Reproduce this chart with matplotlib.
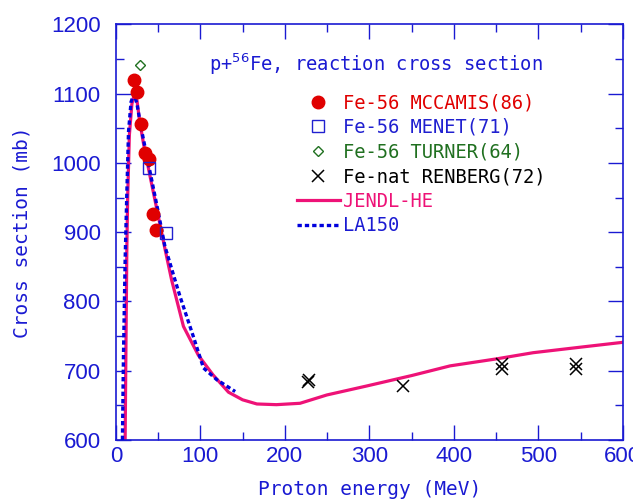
import matplotlib
matplotlib.use('Agg')
import matplotlib.pyplot as plt
from matplotlib.ticker import MultipleLocator
from matplotlib import font_manager

BLUE = '#1a1ad2'
PINK = '#ee1277'

# experimental data (MeV, mb)
mccamis_e = [20.9, 24.8, 29.6, 34.3, 39.0, 44.1, 47.3]
mccamis_s = [1119, 1102, 1056, 1014, 1006, 926, 903]

menet_e = [39.4, 59.5]
menet_s = [992, 899]

turner_e = [28.8]
turner_s = [1141]

renberg_e = [227, 228, 340, 457, 457, 544, 544]
renberg_s = [683, 686, 678, 710, 703, 710, 703]

# evaluations
jendl_e = [11, 12, 13, 14, 16, 19, 22, 25, 28, 32.7, 40.6, 50.4, 58.3, 66,
           80, 97.8, 115, 133.3, 150, 166.9, 190, 218, 249.7, 297, 350,
           395.6, 450, 493.8, 550, 600]
jendl_s = [600, 740, 874, 950, 1040, 1085, 1100, 1090, 1062, 1028, 980, 922,
           875, 831, 764, 722, 694, 669, 658, 652, 651, 653, 665, 678, 693,
           707, 717, 726, 734, 741]

la150_e = [7.8, 9, 11, 13, 15, 18, 21.5, 25, 30, 40, 50, 58, 70, 76, 91.8,
           103.7, 119.5, 141.2]
la150_s = [600, 720, 860, 956, 1045, 1088, 1100, 1085, 1050, 990, 930, 880,
           831, 807, 749, 704, 687, 670]

names = [f.name for f in font_manager.fontManager.ttflist]
tick_font = 'Liberation Sans Narrow' if 'Liberation Sans Narrow' in names else 'Liberation Sans'

fig = plt.figure(figsize=(6.33, 5.0), dpi=100)
ax = fig.add_axes([0.183, 0.12, 0.801, 0.8314])

ax.plot(jendl_e, jendl_s, '-', color=PINK, lw=2.3, label='JENDL-HE', zorder=2)
ax.plot(la150_e, la150_s, color='#0000dd', lw=2.4, ls=(0, (1.3, 0.9)),
        label='LA150', zorder=3)

ax.plot(mccamis_e, mccamis_s, 'o', color='#e00000', ms=9, ls='none',
        label='Fe-56 MCCAMIS(86)', zorder=4)
ax.plot(menet_e, menet_s, 's', mfc='none', mec='#2020d0', mew=1.0, ms=8,
        ls='none', label='Fe-56 MENET(71)', zorder=4)
ax.plot(turner_e, turner_s, 'D', mfc='none', mec='#207020', mew=1.0, ms=5.5,
        ls='none', label='Fe-56 TURNER(64)', zorder=4)
ax.plot(renberg_e, renberg_s, 'x', color='black', mew=1.1, ms=8,
        ls='none', label='Fe-nat RENBERG(72)', zorder=4)

ax.set_xlim(0, 600)
ax.set_ylim(600, 1200)
ax.xaxis.set_major_locator(MultipleLocator(100))
ax.xaxis.set_minor_locator(MultipleLocator(50))
ax.yaxis.set_major_locator(MultipleLocator(100))
ax.yaxis.set_minor_locator(MultipleLocator(50))
ax.tick_params(which='both', direction='in', top=True, right=True,
               colors=BLUE, labelsize=16)
ax.tick_params(axis='y', pad=11)
ax.tick_params(axis='x', pad=4)
ax.tick_params(which='major', length=11, width=1.0)
ax.tick_params(which='minor', length=6, width=1.0)
for lab in ax.get_xticklabels() + ax.get_yticklabels():
    lab.set_family(tick_font)
for sp in ax.spines.values():
    sp.set_color(BLUE)
    sp.set_linewidth(1.2)

mono = 'DejaVu Sans Mono'
ax.set_xlabel('Proton energy (MeV)', family=mono, fontsize=14, color=BLUE, labelpad=10)
ax.set_ylabel('Cross section (mb)', family=mono, fontsize=14, color=BLUE, labelpad=14)

ax.text(0.512, 0.905, r'p+$^{56}$Fe, reaction cross section', transform=ax.transAxes,
        family=mono, fontsize=13.5, color=BLUE, ha='center', va='center')

handles, labels = ax.get_legend_handles_labels()
order = [2, 3, 4, 5, 0, 1]
leg = ax.legend([handles[i] for i in order], [labels[i] for i in order],
                loc='upper left', bbox_to_anchor=(0.357, 0.834), frameon=False,
                prop={'family': mono, 'size': 13.5}, handlelength=2.3,
                handletextpad=0.15, labelspacing=0.3, borderaxespad=0,
                borderpad=0)
text_colors = ['#e00000', '#2020d0', '#207020', 'black', PINK, '#1a1ad2']
for t, c in zip(leg.get_texts(), text_colors):
    t.set_color(c)

fig.savefig('out.png', dpi=100)
